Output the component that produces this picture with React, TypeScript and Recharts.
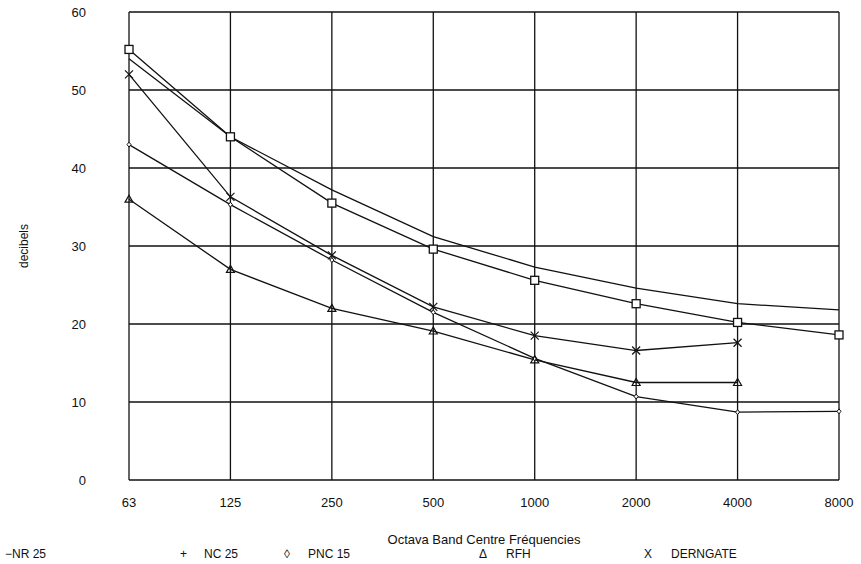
import React from "react";
import { CartesianGrid, Line, LineChart, XAxis, YAxis } from "recharts";

// octave band centre frequencies (Hz) and the five curves, dB
const FREQS = ["63", "125", "250", "500", "1000", "2000", "4000", "8000"];
const NR25 = [55.2, 44, 35.5, 29.6, 25.6, 22.6, 20.2, 18.6];
const NC25 = [54, 44, 37.2, 31.2, 27.3, 24.6, 22.6, 21.8];
const PNC15 = [43, 35.3, 28.2, 21.5, 15.6, 10.7, 8.7, 8.8];
const RFH = [36, 27, 22, 19.1, 15.4, 12.5, 12.5, null];
const DERNGATE = [52, 36.3, 28.8, 22.2, 18.5, 16.6, 17.6, null];
const Y_TICKS = [0, 10, 20, 30, 40, 50, 60];

const LEGEND = [
  { sym: "", label: "\u2212NR 25" },
  { sym: "+", label: "NC 25" },
  { sym: "\u25CA", label: "PNC 15" },
  { sym: "\u0394", label: "RFH" },
  { sym: "X", label: "DERNGATE" },
];

const data = FREQS.map((f, i) => ({
  freq: f,
  nr: NR25[i],
  nc: NC25[i],
  pnc: PNC15[i],
  rfh: RFH[i],
  der: DERNGATE[i],
}));

const INK = "#111";
const FONT = "'Liberation Sans', Arial, sans-serif";

const Square = (p: any) =>
  p.cx == null || p.value == null ? null : (
    <rect x={p.cx - 4} y={p.cy - 4} width={8} height={8} fill="white" stroke={INK} strokeWidth={1.3} />
  );
const Diamond = (p: any) =>
  p.cx == null || p.value == null ? null : (
    <path d={`M${p.cx},${p.cy - 2.5}L${p.cx + 2},${p.cy}L${p.cx},${p.cy + 2.5}L${p.cx - 2},${p.cy}Z`} fill="white" stroke={INK} strokeWidth={1} />
  );
const Tri = (p: any) =>
  p.cx == null || p.value == null ? null : (
    <path d={`M${p.cx},${p.cy - 4}L${p.cx + 4},${p.cy + 3}L${p.cx - 4},${p.cy + 3}Z`} fill="none" stroke={INK} strokeWidth={1.2} />
  );
const Cross = (p: any) =>
  p.cx == null || p.value == null ? null : (
    <path d={`M${p.cx - 4},${p.cy - 4}L${p.cx + 4},${p.cy + 4}M${p.cx + 4},${p.cy - 4}L${p.cx - 4},${p.cy + 4}`} stroke={INK} strokeWidth={1.2} />
  );

// legend x positions (symbol, label)
const LEG_POS = [
  [0, 5],
  [180, 204],
  [284, 308],
  [479, 506],
  [644, 671],
];

export default function App() {
  return (
    <div style={{ position: "fixed", left: 0, top: 0, width: 861, height: 564, background: "white", fontFamily: FONT }}>
      <LineChart width={861} height={564} data={data} margin={{ top: 12, right: 22, left: 69, bottom: 54 }}>
        <CartesianGrid stroke={INK} strokeWidth={1.3} />
        <XAxis
          dataKey="freq"
          axisLine={false}
          tickLine={false}
          tickSize={0}
          tickMargin={18}
          height={30}
          tick={{ fontSize: 13, fill: INK, fontFamily: FONT }}
          label={{ value: "Octava Band Centre Fr\u00E9quencies", position: "bottom", offset: 25, style: { fontSize: 13, fill: INK, fontFamily: FONT } }}
        />
        <YAxis
          type="number"
          domain={[0, 60]}
          ticks={Y_TICKS}
          width={60}
          axisLine={false}
          tickLine={false}
          tickSize={0}
          tickMargin={43}
          tick={{ fontSize: 13, fill: INK, fontFamily: FONT }}
          label={{
            content: (lp: any) => {
              const vb = lp.viewBox || { x: 69, y: 12, height: 468 };
              const cx = 24;
              const cy = vb.y + vb.height / 2;
              return (
                <text x={cx} y={cy} transform={`rotate(-90 ${cx} ${cy})`} textAnchor="middle" dominantBaseline="central" fontSize={12} fill={INK} fontFamily={FONT}>
                  decibels
                </text>
              );
            },
          }}
        />
        <Line dataKey="nc" stroke={INK} strokeWidth={1.3} dot={false} isAnimationActive={false} />
        <Line dataKey="nr" stroke={INK} strokeWidth={1.3} dot={<Square />} isAnimationActive={false} />
        <Line dataKey="pnc" stroke={INK} strokeWidth={1.3} dot={<Diamond />} isAnimationActive={false} />
        <Line dataKey="rfh" stroke={INK} strokeWidth={1.3} dot={<Tri />} isAnimationActive={false} />
        <Line dataKey="der" stroke={INK} strokeWidth={1.3} dot={<Cross />} isAnimationActive={false} />
      </LineChart>
      {LEGEND.map((l, i) => (
        <React.Fragment key={l.label}>
          {l.sym && (
            <span style={{ position: "absolute", left: LEG_POS[i][0], top: 547, fontSize: 12, color: INK }}>{l.sym}</span>
          )}
          <span style={{ position: "absolute", left: LEG_POS[i][1], top: 547, fontSize: 12, color: INK, whiteSpace: "nowrap" }}>
            {l.label}
          </span>
        </React.Fragment>
      ))}
    </div>
  );
}
